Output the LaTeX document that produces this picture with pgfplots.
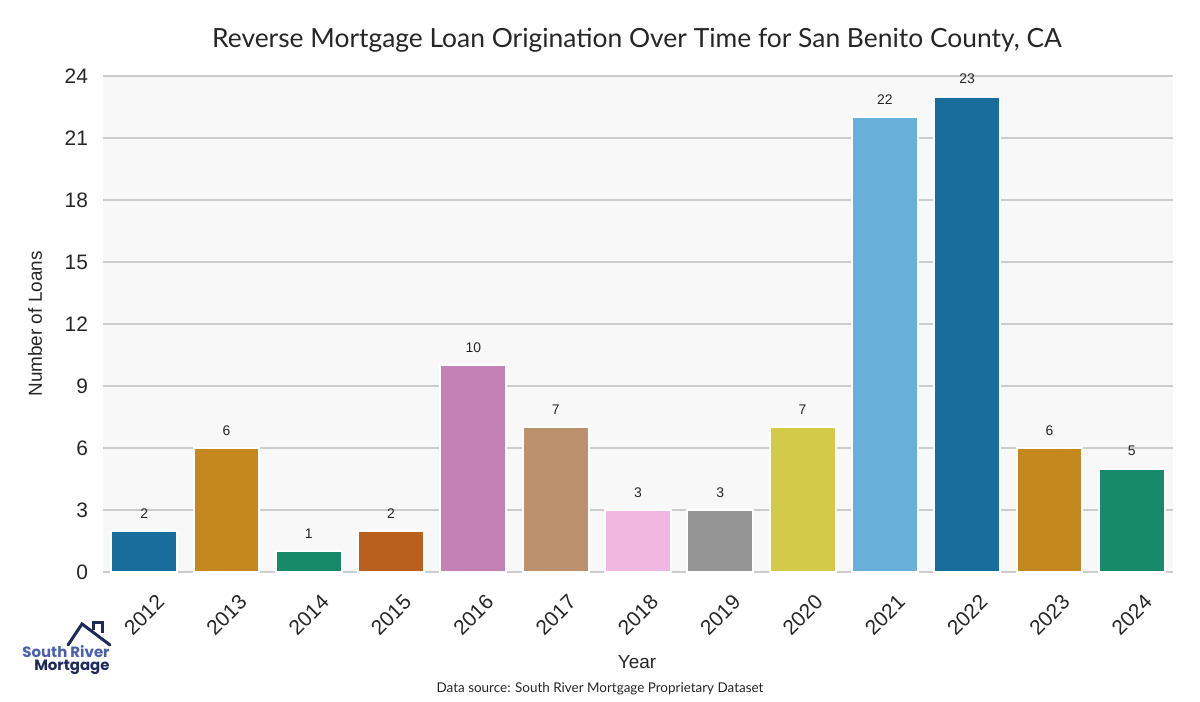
\documentclass[border=0pt]{standalone}
\usepackage{fontspec}
\setmainfont{Liberation Sans}
\newfontfamily\titlefont{Lato}
\newfontfamily\logofont{Poppins}
\usepackage{pgfplots}
\pgfplotsset{compat=1.18}
\definecolor{c12}{HTML}{176D9C}
\definecolor{c13}{HTML}{C4881F}
\definecolor{c14}{HTML}{178A6A}
\definecolor{c15}{HTML}{B9601F}
\definecolor{c16}{HTML}{C282B6}
\definecolor{c17}{HTML}{BB916E}
\definecolor{c18}{HTML}{F0B8E1}
\definecolor{c19}{HTML}{959595}
\definecolor{c20}{HTML}{D4CA4A}
\definecolor{c21}{HTML}{68B0D9}
\definecolor{bgc}{HTML}{F8F8F8}
\definecolor{gridc}{HTML}{CCCCCC}
\definecolor{txt}{HTML}{262626}
\definecolor{logoblue}{HTML}{4B5FAE}
\definecolor{logonavy}{HTML}{1E2A5A}
\begin{document}
\begin{tikzpicture}
\path (0bp,0bp) rectangle (600bp,350bp);
\begin{axis}[
  at={(51.5bp,64bp)}, anchor=south west,
  scale only axis, width=535bp, height=248bp,
  xmin=-0.5, xmax=12.5, ymin=0, ymax=24,
  ybar, bar width=0.8,
  every axis plot/.append style={bar shift=0pt, draw=white, line width=1bp},
  axis background/.style={fill=bgc},
  axis line style={draw=none},
  major tick length=0pt,
  ymajorgrids, grid style={gridc, line width=0.75bp},
  ytick={0,3,...,24},
  xtick={0,...,12},
  xticklabels={2012,2013,2014,2015,2016,2017,2018,2019,2020,2021,2022,2023,2024},
  xticklabel style={yshift=-21.5bp, rotate=45, anchor=center, font=\fontsize{10.5}{12}\selectfont, text=txt},
  yticklabel style={font=\fontsize{10.5}{12}\selectfont, text=txt, xshift=-4bp},
  /pgf/number format/assume math mode=true,
  nodes near coords,
  every node near coord/.append style={font=\fontsize{7}{8}\selectfont, text=txt, yshift=2.5bp},
  clip=false,
]
\addplot[fill=c12] coordinates {(0,2)};
\addplot[fill=c13] coordinates {(1,6)};
\addplot[fill=c14] coordinates {(2,1)};
\addplot[fill=c15] coordinates {(3,2)};
\addplot[fill=c16] coordinates {(4,10)};
\addplot[fill=c17] coordinates {(5,7)};
\addplot[fill=c18] coordinates {(6,3)};
\addplot[fill=c19] coordinates {(7,3)};
\addplot[fill=c20] coordinates {(8,7)};
\addplot[fill=c21] coordinates {(9,22)};
\addplot[fill=c12] coordinates {(10,23)};
\addplot[fill=c13] coordinates {(11,6)};
\addplot[fill=c14] coordinates {(12,5)};
\end{axis}
\node[text=txt, font=\titlefont\fontsize{13.25}{15}\selectfont] at (318.5bp,330bp) {Reverse Mortgage Loan Origination Over Time for San Benito County, CA};
\node[text=txt, rotate=90, font=\fontsize{9.5}{11}\selectfont] at (17.5bp,188bp) {Number of Loans};
\node[text=txt, font=\fontsize{9.5}{11}\selectfont] at (318.5bp,19bp) {Year};
\node[text=txt, font=\titlefont\fontsize{6.75}{8}\selectfont] at (300bp,5.5bp) {Data source: South River Mortgage Proprietary Dataset};
% logo
\draw[logonavy, line width=1.5bp, line cap=round, line join=miter]
  (34bp,27.5bp) -- (41bp,38bp) -- (55bp,27.5bp);
\draw[logonavy, line width=1.5bp] (46.5bp,35bp) -- (46.5bp,38.5bp) -- (51bp,38.5bp) -- (51bp,33.5bp);
\node[anchor=south east, inner sep=0pt, text=logoblue, font=\logofont\bfseries\fontsize{7.5}{9}\selectfont] at (55bp,21bp) {South River};
\node[anchor=south east, inner sep=0pt, text=logonavy, font=\logofont\bfseries\fontsize{7.5}{9}\selectfont] at (55bp,12.5bp) {Mortgage};
\end{tikzpicture}
\end{document}
